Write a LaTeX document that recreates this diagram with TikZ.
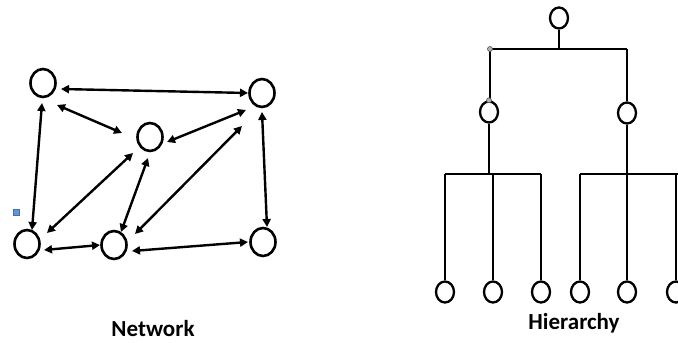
\documentclass[tikz,border=0pt]{standalone}
\usepackage{fontspec}
\setmainfont{Carlito}
\usetikzlibrary{shapes.geometric,arrows.meta,calc}
\definecolor{sqblue}{RGB}{98,150,212}
\definecolor{sqedge}{RGB}{70,110,170}
\begin{document}
\begin{tikzpicture}[x=1pt,y=-1pt,
  nnode/.style={draw,ellipse,line width=2.6pt,minimum width=25pt,minimum height=28pt,inner sep=0pt},
  hnode/.style={draw,ellipse,line width=2.3pt,minimum width=18pt,minimum height=21pt,inner sep=0pt},
  darrow/.style={line width=2.4pt,{Triangle[length=8pt,width=8pt]}-{Triangle[length=8pt,width=8pt]}},
  hline/.style={line width=2.3pt},
  gdot/.style={draw=black!70,fill=gray!60,circle,inner sep=0pt,minimum size=5pt,line width=0.6pt},
  lbl/.style={font=\fontsize{23}{23}\selectfont\bfseries}]
\useasboundingbox (0,0) rectangle (678,343);
\clip (0,0) rectangle (678,343);
% Network
\node[nnode] (A) at (43,83) {};
\node[nnode] (B) at (262,93) {};
\node[nnode] (C) at (150,137) {};
\node[nnode] (D) at (27,244) {};
\node[nnode] (E) at (114,245) {};
\node[nnode] (F) at (263,242) {};
\draw[darrow] ($(A)+(18,6)$) -- ($(B)+(-14,0)$);
\draw[darrow] ($(A)+(14,22)$) -- ($(C)+(-28,-4)$);
\draw[darrow] ($(C)+(17,5)$) -- ($(B)+(-16,17)$);
\draw[darrow] ($(A)+(-1,20)$) -- ($(D)+(5,-14)$);
\draw[darrow] ($(B)+(0,19)$) -- ($(F)+(4,-15)$);
\draw[darrow] ($(C)+(-17,16)$) -- ($(D)+(20,-11)$);
\draw[darrow] ($(C)+(-2,21)$) -- ($(E)+(7,-13)$);
\draw[darrow] ($(B)+(-20,33)$) -- ($(E)+(21,-11)$);
\draw[darrow] ($(D)+(17,6)$) -- ($(E)+(-14,0)$);
\draw[darrow] ($(E)+(18,6)$) -- ($(F)+(-15,0)$);
\node[draw=sqedge,fill=sqblue,minimum size=6pt,inner sep=0pt,line width=0.5pt] (sq) at (16,212) {};
\node[lbl] (net) at (153,329) {Network};
% Hierarchy
\node[hnode] (R) at (559,18) {};
\node[hnode] (L) at (489,112) {};
\node[hnode] (M) at (627,113) {};
\coordinate (bl) at (490,49);
\coordinate (br) at (627,49);
\draw[hline] (R.south) -- (R.south |- bl);
\draw[hline] (bl) -- (br);
\draw[hline] (bl) -- (bl |- L.north);
\draw[hline] (br) -- (M.north);
\foreach \i/\x in {1/445,2/493,3/541,4/580,5/627,6/676}
  \node[hnode] (l\i) at (\x,292) {};
\coordinate (lb) at (445,174);
\coordinate (rb) at (580,174);
\draw[hline] (L.south) -- (L.south |- lb);
\draw[hline] (M.south) -- (M.south |- rb);
\draw[hline] (lb) -- (lb -| l3);
\draw[hline] (rb) -- ++(110,0);
\foreach \i in {1,2,3}
  \draw[hline] (l\i |- lb) -- (l\i.north);
\foreach \i in {4,5,6}
  \draw[hline] (l\i |- rb) -- (l\i.north);
\node[gdot] (g1) at (bl) {};
\node[gdot] (g2) at (L.north) {};
\node[lbl] (hier) at (574,323) {Hierarchy};
\end{tikzpicture}
\end{document}
